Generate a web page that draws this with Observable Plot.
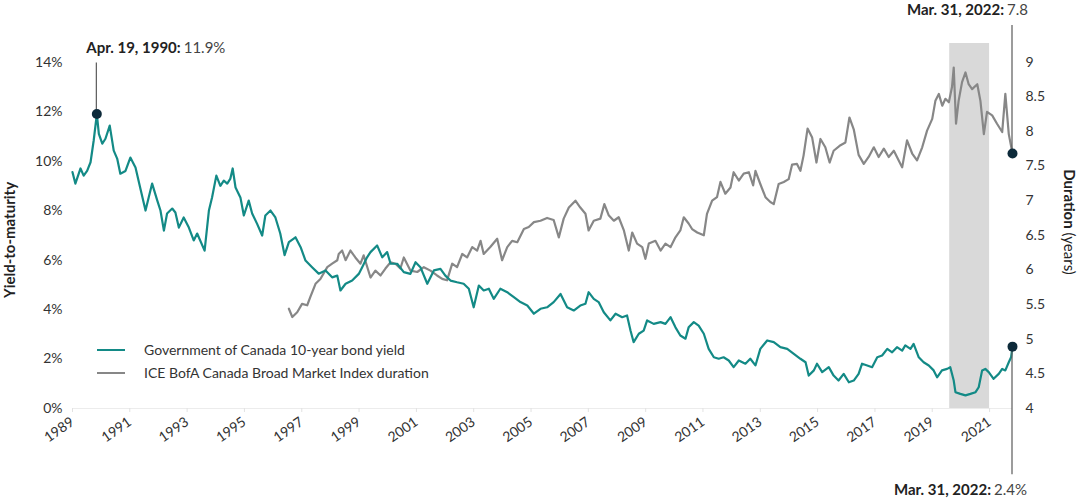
<!DOCTYPE html>
<html>
<head>
<meta charset="utf-8">
<script src="https://cdn.jsdelivr.net/npm/d3@7"></script>
<script src="https://cdn.jsdelivr.net/npm/@observablehq/plot@0.6"></script>
<style>
  html, body { margin: 0; padding: 0; background: #fff; }
  #chart { width: 1079px; height: 503px; }
  svg { font-family: Lato, "Open Sans", sans-serif; }
</style>
</head>
<body>
<div id="chart"></div>
<script>
// ---------- data (decimal years) ----------
const yieldDates = [
  1989.45,1989.55,1989.73,1989.84,1989.96,
  1990.08,1990.19,1990.30,1990.37,1990.49,1990.60,1990.75,1990.89,
  1991.01,1991.12,1991.30,1991.47,1991.65,1991.82,
  1992.00,1992.11,1992.23,1992.41,1992.52,1992.64,1992.75,1992.93,
  1993.04,1993.16,1993.33,1993.51,1993.68,1993.80,
  1994.06,1994.21,1994.32,1994.47,1994.61,1994.73,1994.85,1994.96,
  1995.04,1995.14,1995.31,1995.43,1995.60,1995.72,1995.89,
  1996.07,1996.18,1996.36,1996.53,1996.70,1996.85,
  1997.00,1997.23,1997.41,1997.58,1997.81,
  1998.04,1998.28,1998.51,1998.69,1998.80,1998.98,
  1999.21,1999.44,1999.56,1999.73,1999.85,
  2000.08,2000.26,2000.43,2000.55,2000.78,
  2001.01,2001.24,2001.42,2001.59,2001.83,
  2002.06,2002.29,2002.46,2002.64,2002.87,
  2003.10,2003.28,2003.45,2003.63,2003.80,2003.98,
  2004.15,2004.38,2004.62,2004.85,
  2005.08,2005.32,2005.55,2005.78,
  2006.01,2006.24,2006.48,2006.71,2006.94,
  2007.17,2007.35,2007.46,2007.64,2007.81,2007.99,
  2008.22,2008.40,2008.63,2008.80,2008.92,
  2009.03,2009.21,2009.38,2009.50,2009.73,2009.97,
  2010.14,2010.32,2010.49,2010.66,2010.84,2010.95,
  2011.13,2011.30,2011.48,2011.65,2011.83,
  2012.00,2012.17,2012.35,2012.52,2012.70,2012.93,
  2013.10,2013.28,2013.45,2013.69,2013.92,
  2014.15,2014.39,2014.62,2014.85,
  2015.03,2015.14,2015.32,2015.43,2015.61,2015.84,
  2016.01,2016.18,2016.36,2016.54,2016.71,2016.88,
  2017.00,2017.18,2017.35,2017.53,2017.70,2017.88,
  2018.05,2018.22,2018.40,2018.51,2018.69,2018.80,2018.98,
  2019.15,2019.33,2019.50,2019.62,2019.79,2019.97,
  2020.08,2020.20,2020.26,2020.43,2020.61,2020.78,2020.96,
  2021.07,2021.19,2021.30,2021.42,2021.59,2021.77,2021.89,
  2022.00,2022.12,2022.20,2022.25
];
const yieldValues = [
  9.55,9.09,9.70,9.41,9.60,
  9.95,10.83,11.9,11.10,10.70,10.90,11.43,10.42,
  10.10,9.49,9.60,10.14,9.74,8.89,
  8.00,8.53,9.09,8.40,8.00,7.19,7.88,8.08,
  7.92,7.31,7.72,7.31,6.79,7.07,
  6.38,8.00,8.53,9.41,9.00,9.21,9.09,9.29,
  9.70,8.93,8.53,7.80,8.40,7.88,7.47,
  6.99,7.80,8.00,7.72,7.07,6.20,
  6.72,6.92,6.52,5.98,5.71,
  5.45,5.58,5.30,5.37,4.77,5.04,
  5.17,5.44,5.71,6.11,6.32,
  6.59,6.11,6.32,5.85,5.85,
  5.51,5.44,5.91,5.71,5.04,
  5.58,5.64,5.37,5.17,5.10,
  5.04,4.84,4.09,4.97,4.77,4.84,
  4.43,4.84,4.70,4.50,
  4.30,4.16,3.83,4.03,
  4.09,4.30,4.63,4.09,3.96,
  4.16,4.23,4.70,4.43,4.30,3.89,
  3.56,3.83,3.69,3.76,3.15,
  2.68,3.02,3.15,3.56,3.42,3.49,
  3.42,3.69,3.28,2.95,2.82,3.28,
  3.49,3.35,3.02,2.41,2.07,
  2.01,2.07,1.94,1.67,1.94,1.81,
  2.01,1.74,2.41,2.75,2.68,
  2.48,2.41,2.21,2.01,
  1.87,1.33,1.54,1.81,1.47,1.67,
  1.33,1.13,1.40,1.06,1.13,1.40,
  1.81,1.74,1.67,2.07,2.14,2.41,
  2.27,2.48,2.34,2.55,2.41,2.61,2.07,
  1.87,1.74,1.54,1.26,1.54,1.60,
  1.67,1.13,0.66,0.59,0.53,0.59,0.66,
  0.86,1.54,1.60,1.47,1.20,1.40,1.60,
  1.54,1.87,2.07,2.50
];
const durationDates = [
  1997.00,1997.12,1997.29,1997.46,1997.64,1997.75,1997.93,
  1998.10,1998.34,1998.51,1998.69,1998.74,1998.86,1998.98,
  1999.15,1999.32,1999.50,1999.61,1999.85,
  2000.02,2000.20,2000.37,2000.55,2000.72,2000.89,
  2001.01,2001.24,2001.48,2001.71,2001.94,
  2002.17,2002.35,2002.52,2002.70,2002.87,
  2003.05,2003.22,2003.40,2003.57,2003.69,2003.80,
  2004.03,2004.27,2004.44,2004.62,2004.79,2004.97,
  2005.20,2005.37,2005.55,2005.78,
  2006.01,2006.24,2006.42,2006.59,2006.77,
  2007.00,2007.17,2007.35,2007.46,2007.64,2007.87,
  2008.01,2008.16,2008.34,2008.51,2008.69,2008.86,2008.98,
  2009.15,2009.33,2009.44,2009.56,2009.79,2009.97,
  2010.14,2010.32,2010.49,2010.66,2010.78,2010.95,
  2011.07,2011.25,2011.48,2011.59,2011.77,2011.94,
  2012.06,2012.23,2012.41,2012.52,2012.70,2012.87,
  2013.05,2013.20,2013.28,2013.45,2013.63,2013.80,2013.92,
  2014.09,2014.27,2014.44,2014.56,2014.73,2014.85,2014.96,
  2015.10,2015.26,2015.41,2015.55,2015.72,2015.87,
  2016.01,2016.25,2016.42,2016.56,2016.71,2016.88,
  2017.06,2017.23,2017.41,2017.58,2017.76,2017.93,
  2018.11,2018.28,2018.40,2018.57,2018.75,2018.92,
  2019.10,2019.27,2019.45,2019.56,2019.68,2019.80,2019.91,
  2020.03,2020.14,2020.20,2020.28,2020.37,2020.49,2020.61,2020.72,2020.84,
  2021.02,2021.13,2021.25,2021.36,2021.54,2021.71,2021.89,
  2022.00,2022.12,2022.25
];
const durationValues = [
  5.44,5.32,5.39,5.51,5.49,5.61,5.80,
  5.87,6.04,6.09,6.14,6.23,6.28,6.14,
  6.28,6.18,6.09,6.21,5.89,
  5.99,5.92,6.02,6.11,6.09,6.02,
  6.18,5.99,5.97,6.04,5.99,
  5.92,5.87,5.85,6.09,6.04,
  6.23,6.18,6.33,6.28,6.42,6.23,
  6.33,6.45,6.14,6.33,6.42,6.40,
  6.59,6.62,6.69,6.71,
  6.75,6.72,6.47,6.74,6.90,
  7.00,6.90,6.81,6.57,6.71,6.74,
  6.95,6.79,6.71,6.76,6.57,6.28,6.54,
  6.38,6.33,6.16,6.38,6.42,6.28,
  6.38,6.33,6.47,6.57,6.76,6.67,
  6.59,6.54,6.50,6.81,7.00,7.05,
  7.27,7.10,7.19,7.41,7.29,7.39,
  7.41,7.22,7.43,7.24,7.05,6.98,6.95,
  7.24,7.27,7.31,7.52,7.53,7.43,7.65,
  8.04,7.91,7.55,7.89,7.77,7.55,
  7.72,7.80,7.84,8.20,8.03,7.66,
  7.53,7.63,7.77,7.63,7.75,7.63,
  7.72,7.58,7.48,7.87,7.68,7.58,
  7.77,8.01,8.18,8.44,8.54,8.37,8.47,
  8.42,8.64,8.92,8.11,8.44,8.71,8.85,8.68,8.61,
  8.68,8.44,7.96,8.28,8.23,8.11,7.99,
  8.54,7.96,7.68
];

// ---------- axes / labels ----------
const xDomainYears = [1989.45, 2022.25];
const xTickYears = [1989,1991,1993,1995,1997,1999,2001,2003,2005,2007,2009,2011,2013,2015,2017,2019,2021];
const xTickOffset = 0.45;              // ticks sit mid-year in the source chart
const yieldTicks = [0,2,4,6,8,10,12,14];
const yieldMax = 14.75;
const durationTicks = [4,4.5,5,5.5,6,6.5,7,7.5,8,8.5,9];
const durationRange = [4, 9];          // maps onto yield 0..14
const shadedPeriod = [2020.06, 2021.45];

const seriesNames = ["Government of Canada 10-year bond yield", "ICE BofA Canada Broad Market Index duration"];
const seriesColors = ["#138a86", "#878787"];

const annotations = [
  {date: 1990.30, series: "yield",    value: 11.9, bold: "Apr. 19, 1990:", text: "11.9%", dir: "up",   len: 51,  anchor: "start", dx: -10},
  {date: 2022.25, series: "duration", value: 7.68, bold: "Mar. 31, 2022:", text: "7.8",   dir: "up",   len: 128, anchor: "end",   dx: 16},
  {date: 2022.25, series: "yield",    value: 2.50, bold: "Mar. 31, 2022:", text: "2.4%",  dir: "down", len: 128, anchor: "end",   dx: 15}
];

// ---------- helpers ----------
const toDate = y => {
  const yr = Math.floor(y);
  const a = Date.UTC(yr, 0, 1), b = Date.UTC(yr + 1, 0, 1);
  return new Date(a + (y - yr) * (b - a));
};
const durScale = (yieldTicks[yieldTicks.length - 1]) / (durationRange[1] - durationRange[0]);
const durToY = d => (d - durationRange[0]) * durScale;
const yToDur = v => Math.round((v / durScale + durationRange[0]) * 10) / 10;

const yieldData = yieldDates.map((d, i) => ({date: toDate(d), value: yieldValues[i]}));
const durationData = durationDates.map((d, i) => ({date: toDate(d), value: durToY(durationValues[i])}));
const xTicks = xTickYears.map(y => toDate(y + xTickOffset));
const annDots = annotations.map(a => ({date: toDate(a.date), value: a.series === "yield" ? a.value : durToY(a.value)}));

const chart = Plot.plot({
  width: 1079,
  height: 503,
  marginLeft: 72,
  marginRight: 67,
  marginTop: 43,
  marginBottom: 95,
  style: {fontFamily: "Lato, 'Open Sans', sans-serif", fontSize: "14px", color: "#333", background: "#fff"},
  x: {type: "utc", domain: xDomainYears.map(toDate)},
  y: {domain: [0, yieldMax]},
  marks: [
    Plot.rect([shadedPeriod], {x1: d => toDate(d[0]), x2: d => toDate(d[1]), y1: 0, y2: yieldMax, fill: "#d9d9d9"}),
    Plot.ruleY([0], {stroke: "#ececec", strokeWidth: 1}),
    Plot.axisX(xTicks, {
      anchor: "bottom", tickFormat: d => String(d.getUTCFullYear()),
      tickRotate: -35, tickSize: 4, tickPadding: 8, stroke: "#e2e2e2", fill: "#333", fontSize: 14, label: null
    }),
    Plot.axisY(yieldTicks, {anchor: "left", tickSize: 0, tickPadding: 10, tickFormat: d => d + "%", fill: "#333", fontSize: 14, label: null}),
    Plot.axisY(durationTicks.map(durToY), {anchor: "right", tickSize: 0, tickPadding: 13, tickFormat: v => String(yToDur(v)), fill: "#333", fontSize: 14, label: null}),
    Plot.line(durationData, {x: "date", y: "value", stroke: seriesColors[1], strokeWidth: 2.2}),
    Plot.line(yieldData, {x: "date", y: "value", stroke: seriesColors[0], strokeWidth: 2.2}),
    Plot.dot(annDots, {x: "date", y: "value", r: 5, fill: "#0d2a3a", stroke: "none"})
  ]
});

document.getElementById("chart").appendChild(chart);

// ---------- annotations, legend, titles ----------
const svg = d3.select(chart);
const sx = chart.scale("x"), sy = chart.scale("y");
const ann = svg.append("g").attr("class", "annotations");
annotations.forEach(a => {
  const px = sx.apply(toDate(a.date));
  const py = sy.apply(a.series === "yield" ? a.value : durToY(a.value));
  const end = a.dir === "up" ? py - a.len : py + a.len;
  ann.insert("line", ":first-child")
    .attr("x1", px).attr("x2", px).attr("y1", py).attr("y2", end)
    .attr("stroke", "#5a5a5a").attr("stroke-width", 1.2);
  const t = ann.append("text")
    .attr("x", px + a.dx)
    .attr("y", a.dir === "up" ? end - 10 : end + 21)
    .attr("text-anchor", a.anchor)
    .attr("font-size", 15)
    .attr("fill", "#222");
  t.append("tspan").attr("font-weight", 700).text(a.bold);
  t.append("tspan").attr("font-weight", 400).attr("dx", 3).attr("fill", "#444").text(a.text);
});
// keep dots above leader lines
svg.selectAll("g[aria-label='dot']").raise();

const legend = svg.append("g").attr("class", "legend");
seriesNames.forEach((name, i) => {
  const y = 350 + i * 23;
  legend.append("line").attr("x1", 97).attr("x2", 125).attr("y1", y).attr("y2", y)
    .attr("stroke", seriesColors[i]).attr("stroke-width", 2);
  legend.append("text").attr("x", 144).attr("y", y).attr("dy", "0.35em")
    .attr("text-anchor", "start")
    .attr("font-size", 14).attr("fill", "#333").text(name);
});

svg.append("text")
  .attr("transform", "translate(10,240) rotate(-90)")
  .attr("text-anchor", "middle").attr("dy", "0.35em")
  .attr("font-size", 15).attr("font-weight", 700).attr("fill", "#222")
  .text("Yield-to-maturity");

const rt = svg.append("text")
  .attr("transform", "translate(1069,222) rotate(90)")
  .attr("text-anchor", "middle").attr("dy", "0.35em")
  .attr("font-size", 15).attr("fill", "#222");
rt.append("tspan").attr("font-weight", 700).text("Duration");
rt.append("tspan").attr("font-weight", 400).text(" (years)");
</script>
</body>
</html>
